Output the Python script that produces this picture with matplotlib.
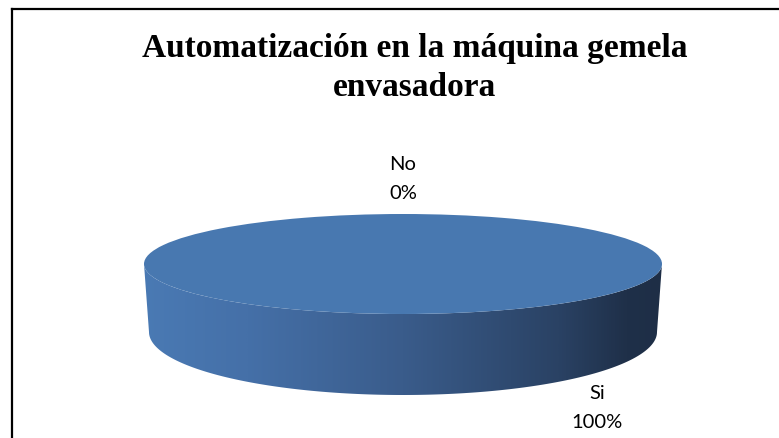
import numpy as np
import matplotlib
matplotlib.use("Agg")
import matplotlib.pyplot as plt
from matplotlib.patches import Polygon, Wedge
from matplotlib.colors import LinearSegmentedColormap
from matplotlib.transforms import Affine2D
from matplotlib.lines import Line2D

# Data
title = "Automatización en la máquina gemela\nenvasadora"
categories = ["Si", "No"]
values = [100, 0]

# Figure in pixel units
W, H, DPI = 779, 439, 100
fig = plt.figure(figsize=(W / DPI, H / DPI), dpi=DPI)
ax = fig.add_axes([0, 0, 1, 1])
ax.set_xlim(0, W)
ax.set_ylim(H, 0)
ax.axis("off")

# Chart frame (left and top edges)
fig.add_artist(Line2D([12 / W, 12 / W], [0, 1 - 9.5 / H], color="black", lw=1.6,
                      transform=fig.transFigure))
fig.add_artist(Line2D([12 / W, 1], [1 - 9.5 / H, 1 - 9.5 / H], color="black", lw=1.6,
                      transform=fig.transFigure))

# Title
ax.text(415, 68, title, ha="center", va="center", fontsize=24,
        fontweight="bold", family="Liberation Serif", linespacing=1.3)

# 3D pie geometry (top ellipse, bottom ellipse)
cx, cy_top, a_top, b_top = 403, 265, 259, 50
cy_bot, a_bot, b_bot = 333, 254, 63

top_color = "#4878B0"
side_cmap = LinearSegmentedColormap.from_list(
    "side",
    [(0.0, "#4A7AB4"), (0.2, "#4570A8"), (0.5, "#3A5C8B"),
     (0.8, "#2A4264"), (0.93, "#1F3049"), (1.0, "#1E2E46")])

total = float(sum(values))
start = -90.0  # back of the disk, slices run clockwise on screen
for name, v in zip(categories, values):
    sweep = 360.0 * v / total
    t1, t2 = start, start + sweep
    start = t2
    if sweep <= 0:
        continue
    # visible front part of the rim for this slice
    lo, hi = max(t1, 0.0), min(t2, 180.0)
    if hi > lo:
        t = np.radians(np.linspace(lo, hi, 200))
        upper = np.column_stack([cx + a_top * np.cos(t), cy_top + b_top * np.sin(t)])
        lower = np.column_stack([cx + a_bot * np.cos(t), cy_bot + b_bot * np.sin(t)])[::-1]
        rim = Polygon(np.vstack([upper, lower]), closed=True, facecolor="none",
                      edgecolor="none")
        ax.add_patch(rim)
        x0, x1 = upper[:, 0].min() - 2, upper[:, 0].max() + 2
        y0, y1 = cy_top - 2, cy_bot + b_bot + 2
        grad = np.linspace(0, 1, 512)[None, :]
        im = ax.imshow(grad, cmap=side_cmap, extent=(x0, x1, y1, y0),
                       aspect="auto", interpolation="bilinear", zorder=2)
        im.set_clip_path(rim)
    # top face of the slice
    wedge = Wedge((0, 0), 1.0, t1, t2, facecolor=top_color, edgecolor="none",
                  antialiased=True, zorder=3)
    wedge.set_transform(Affine2D().scale(a_top, b_top).translate(cx, cy_top) + ax.transData)
    ax.add_patch(wedge)

# Data labels
label_pos = {"No": (403, 179), "Si": (597, 408)}
for name, v in zip(categories, values):
    pct = 100.0 * v / total
    x, y = label_pos[name]
    ax.text(x, y, f"{name}\n{pct:.0f}%", ha="center", va="center", fontsize=14.5,
            family="Lato", linespacing=1.85, color="black", zorder=5)

fig.savefig("out.png", dpi=DPI)
